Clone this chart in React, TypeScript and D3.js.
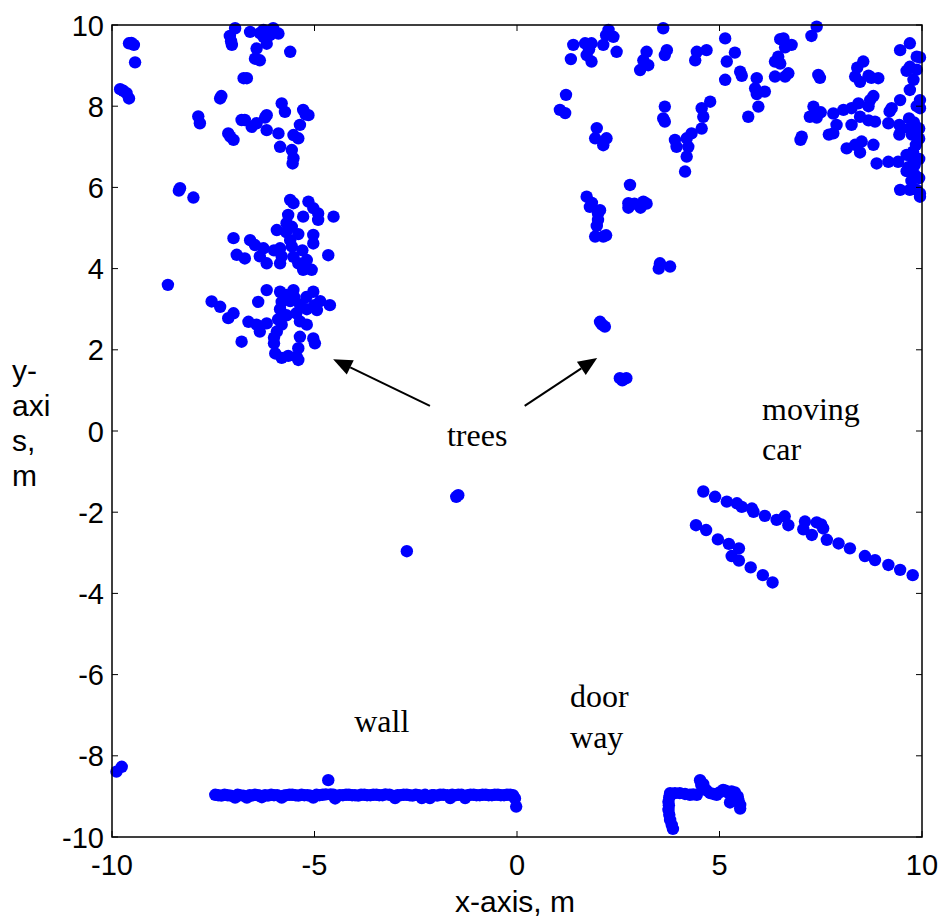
import React from "react";
import * as d3 from "d3";

// Laser scan returns (metres), grouped by what they hit
const leftTreesTop: [number, number][] = [
  [-9.58, 9.55], [-9.46, 9.51], [-9.52, 9.56], [-9.43, 9.08], [-9.8, 8.42], [-9.72, 8.38], [-9.64, 8.32], [-9.58, 8.19],
  [-6.96, 9.92], [-7.09, 9.73], [-7.04, 9.51], [-7.06, 9.6], [-6.59, 9.83], [-6.26, 9.88], [-6.02, 9.92], [-5.89, 9.79],
  [-6.18, 9.54], [-6.43, 9.42], [-6.47, 9.17], [-6.35, 9.13], [-5.6, 9.34], [-6.26, 9.71], [-6.35, 9.8], [-6.1, 9.75],
  [-6.75, 8.69], [-6.67, 8.69], [-7.33, 8.19], [-7.3, 8.25],
  [-7.87, 7.75], [-7.83, 7.58], [-6.8, 7.66], [-6.72, 7.66], [-6.55, 7.49], [-6.43, 7.58], [-6.18, 7.78], [-6.22, 7.72],
  [-6.18, 7.41], [-5.81, 8.07], [-5.73, 7.86], [-5.28, 7.91], [-5.15, 7.78], [-5.22, 7.8], [-5.36, 7.54], [-5.52, 7.29],
  [-5.4, 7.21], [-5.89, 7.33], [-7.13, 7.33], [-7.0, 7.17], [-7.08, 7.25], [-5.85, 7.0], [-5.56, 6.92], [-5.52, 6.72],
  [-5.54, 6.59], [-8.32, 5.98], [-8.35, 5.92], [-7.99, 5.75],
];

const leftTreesMid: [number, number][] = [
  [-5.6, 5.69], [-5.52, 5.61], [-5.15, 5.65], [-5.03, 5.49], [-4.91, 5.36], [-4.91, 5.2], [-4.53, 5.28], [-5.28, 5.28],
  [-5.65, 5.32], [-5.69, 5.12], [-5.93, 4.95], [-5.56, 5.03], [-5.4, 4.85], [-5.03, 4.83], [-5.03, 4.62], [-5.6, 4.7],
  [-5.56, 4.55], [-7.0, 4.75], [-6.59, 4.7], [-6.47, 4.58], [-6.26, 4.5], [-6.0, 4.45], [-5.85, 4.5], [-6.92, 4.34],
  [-6.72, 4.25], [-6.18, 4.13], [-5.85, 4.13], [-5.52, 4.29], [-5.4, 4.13], [-5.19, 4.21], [-5.07, 3.97], [-5.28, 3.97],
  [-4.66, 4.33], [-6.35, 4.3], [-5.81, 4.3], [-5.3, 4.45], [-5.7, 4.9], [-8.62, 3.6],
];

const leftTreesLow: [number, number][] = [
  [-7.54, 3.19], [-7.33, 3.06], [-7.0, 2.9], [-7.13, 2.78], [-6.8, 2.2], [-6.63, 2.69], [-6.43, 2.62], [-6.18, 2.65],
  [-6.35, 2.45], [-6.39, 3.18], [-6.18, 3.47], [-5.85, 3.43], [-5.52, 3.47], [-5.81, 3.18], [-5.6, 3.2], [-5.36, 3.12],
  [-5.03, 3.43], [-4.86, 3.2], [-4.62, 3.1], [-4.94, 2.98], [-5.19, 3.0], [-5.85, 3.0], [-5.69, 2.85], [-5.36, 2.7],
  [-5.19, 2.62], [-5.81, 2.62], [-5.93, 2.45], [-5.36, 2.32], [-5.03, 2.28], [-4.99, 2.16], [-6.0, 2.16], [-5.97, 1.91],
  [-5.81, 1.8], [-5.65, 1.85], [-5.4, 2.04], [-5.4, 1.75], [-5.44, 1.83], [-5.5, 3.3], [-5.7, 3.35], [-5.2, 3.3],
  [-5.0, 3.1], [-5.45, 2.9], [-5.9, 2.75], [-6.0, 2.3],
];

const rightTreesTop: [number, number][] = [
  [1.39, 9.51], [1.33, 9.16], [1.68, 9.55], [1.84, 9.55], [1.72, 9.26], [1.84, 9.1], [2.13, 9.51], [2.26, 9.88],
  [2.38, 9.71], [2.46, 9.34], [3.61, 9.92], [3.2, 9.34], [3.12, 9.13], [3.04, 8.89], [3.24, 9.01], [3.7, 9.38],
  [3.65, 9.26], [4.44, 9.34], [4.68, 9.38], [4.4, 9.13], [2.2, 9.75], [1.78, 9.4],
  [1.21, 8.28], [1.06, 7.91], [1.19, 7.83], [1.97, 7.46], [1.93, 7.21], [2.21, 7.21], [2.13, 7.04],
  [3.65, 7.99], [3.61, 7.7], [3.65, 7.62],
  [4.77, 8.11], [4.56, 7.95], [4.6, 7.74], [4.56, 7.45], [4.31, 7.33], [4.19, 7.21], [3.9, 7.17], [3.94, 7.0],
  [4.23, 7.0], [4.19, 6.76], [4.15, 6.39],
  [5.14, 9.67], [5.38, 9.32], [5.18, 9.1], [5.14, 8.65], [5.51, 8.85], [5.55, 8.75], [5.92, 8.69], [5.88, 8.44],
  [6.12, 8.36], [5.92, 8.3], [5.96, 7.99], [5.71, 7.74],
  [6.58, 9.67], [6.5, 9.65], [6.78, 9.51], [6.62, 9.45], [6.45, 9.22], [6.37, 9.1], [6.5, 9.05], [6.37, 8.73],
  [6.62, 8.73], [6.7, 8.81], [7.4, 9.96], [7.27, 9.73], [7.44, 8.77], [7.48, 8.7],
  [8.55, 9.1], [8.4, 8.95], [8.35, 8.73], [8.47, 8.6], [8.68, 8.75], [8.92, 8.69], [8.75, 8.7],
  [9.46, 9.38], [9.7, 9.55], [9.87, 9.22], [9.95, 9.2], [9.7, 8.97], [9.87, 8.9], [9.62, 8.87], [9.79, 8.65],
  [9.7, 8.4], [9.46, 8.15], [9.95, 8.15], [9.87, 8.0], [9.95, 7.95],
  [7.32, 7.99], [7.23, 7.74], [7.5, 7.85], [7.4, 7.72], [7.81, 7.82], [8.06, 7.91], [8.26, 7.95], [8.43, 8.07],
  [8.72, 8.15], [8.8, 8.25], [8.68, 8.0], [8.47, 7.74], [8.68, 7.65], [8.26, 7.54], [7.89, 7.54], [7.81, 7.33],
  [7.7, 7.3], [7.03, 7.25], [7.0, 7.17],
  [9.25, 7.95], [9.2, 7.87], [9.17, 7.58], [9.44, 7.54], [9.44, 7.3], [9.5, 7.45], [9.68, 7.7], [9.8, 7.6],
  [9.7, 7.45], [9.93, 7.45], [9.93, 7.2], [9.75, 7.3], [8.84, 7.62],
  [8.14, 6.96], [8.35, 7.05], [8.51, 7.13], [8.47, 6.86], [8.8, 7.05], [8.88, 6.59], [9.17, 6.63], [9.41, 6.63],
  [9.62, 6.8], [9.78, 6.88], [9.93, 6.7], [9.82, 6.55], [9.62, 6.4], [9.82, 6.31], [9.93, 6.23], [9.74, 6.16],
  [9.46, 5.94], [9.7, 5.94], [9.95, 5.77], [9.95, 5.85], [9.87, 5.94], [9.78, 6.7], [9.66, 6.5], [9.85, 7.05],
];

const rightTreesLow: [number, number][] = [
  [1.72, 5.77], [1.8, 5.52], [2.05, 5.44], [2.0, 5.2], [1.97, 5.05], [1.93, 4.79], [2.13, 4.79], [2.2, 4.82],
  [2.0, 5.35], [1.85, 5.62],
  [2.79, 6.06], [2.75, 5.61], [2.75, 5.5], [3.12, 5.65], [3.2, 5.6], [3.05, 5.5], [2.9, 5.6],
  [3.53, 4.13], [3.5, 4.0], [3.78, 4.05],
  [2.05, 2.69], [2.17, 2.57], [2.1, 2.62],
  [2.54, 1.3], [2.7, 1.3], [2.6, 1.25],
];

const carFront: [number, number][] = [
  [4.6, -1.49], [4.89, -1.62], [5.18, -1.74], [5.43, -1.78], [5.55, -1.87], [5.8, -1.91], [5.84, -1.99], [6.12, -2.09],
  [6.41, -2.19], [6.61, -2.1], [6.7, -2.32], [7.11, -2.23], [7.07, -2.42], [7.28, -2.56], [7.4, -2.25], [7.51, -2.3],
  [7.56, -2.4], [7.65, -2.68], [7.94, -2.77], [8.22, -2.89], [8.59, -3.08], [8.84, -3.18], [9.17, -3.3], [9.46, -3.42],
  [9.77, -3.55],
];

const carSide: [number, number][] = [
  [4.42, -2.32], [4.67, -2.44], [4.96, -2.67], [5.23, -2.78], [5.48, -2.89], [5.3, -3.08], [5.48, -3.19], [5.77, -3.36],
  [6.07, -3.55], [6.31, -3.73],
];

const wallPoints: [number, number][] = [
  [-7.45, -8.96], [-7.3, -8.98], [-7.15, -8.97], [-6.96, -9.03], [-6.85, -8.97], [-6.67, -9.03], [-6.55, -8.98],
  [-6.4, -8.97], [-6.3, -9.02], [-6.15, -8.98], [-6.0, -8.97], [-5.81, -9.03], [-5.7, -8.97], [-5.55, -8.96],
  [-5.4, -8.98], [-5.25, -8.97], [-5.03, -9.03], [-4.95, -8.96], [-4.8, -8.96], [-4.66, -8.6], [-4.6, -8.95],
  [-4.49, -9.05], [-4.3, -8.97], [-4.15, -8.96], [-4.0, -8.97], [-3.85, -8.96], [-3.7, -8.97], [-3.55, -8.96],
  [-3.4, -8.97], [-3.25, -8.95], [-3.01, -9.04], [-2.95, -8.97], [-2.8, -8.96], [-2.65, -8.97], [-2.5, -8.96],
  [-2.35, -9.04], [-2.15, -9.04], [-2.05, -8.97], [-1.9, -8.96], [-1.65, -9.04], [-1.6, -8.96], [-1.45, -8.96],
  [-1.28, -9.04], [-1.15, -8.96], [-1.0, -8.97], [-0.85, -8.96], [-0.7, -8.97], [-0.55, -8.96], [-0.4, -8.97],
  [-0.25, -8.96], [-0.1, -8.97], [-0.02, -9.25],
  [-7.38, -8.97], [-7.22, -8.96], [-7.07, -8.98], [-6.9, -8.96], [-6.76, -8.98], [-6.6, -8.97], [-6.47, -8.96],
  [-6.35, -8.98], [-6.22, -8.97], [-6.07, -8.96], [-5.92, -8.97], [-5.76, -8.98], [-5.62, -8.96], [-5.47, -8.97],
  [-5.32, -8.96], [-5.17, -8.97], [-5.1, -8.98], [-4.88, -8.97], [-4.72, -8.95], [-4.53, -8.96], [-4.38, -8.97],
  [-4.22, -8.96], [-4.07, -8.97], [-3.92, -8.98], [-3.77, -8.96], [-3.62, -8.97], [-3.47, -8.96], [-3.32, -8.97],
  [-3.15, -8.96], [-3.08, -8.98], [-2.88, -8.97], [-2.72, -8.96], [-2.58, -8.98], [-2.42, -8.97], [-2.27, -8.96],
  [-2.1, -8.97], [-1.97, -8.98], [-1.82, -8.96], [-1.72, -8.97], [-1.52, -8.97], [-1.37, -8.96], [-1.22, -8.97],
  [-1.07, -8.96], [-0.92, -8.97], [-0.77, -8.96], [-0.62, -8.97], [-0.47, -8.96], [-0.32, -8.97], [-0.17, -8.96],
  [-0.05, -9.05],
];

const doorPoints: [number, number][] = [
  [3.82, -9.7], [3.85, -9.8], [3.78, -9.58], [3.74, -9.33], [3.74, -9.13], [3.78, -8.92], [4.02, -8.92], [4.27, -8.96],
  [4.44, -8.96], [4.52, -8.6], [4.6, -8.7], [4.77, -8.92], [4.93, -8.96], [5.09, -8.84], [5.2, -8.9], [5.38, -8.9],
  [5.26, -9.15], [5.51, -9.21], [5.51, -9.3],
  [3.76, -9.45], [3.75, -9.22], [3.76, -9.02], [3.9, -8.92], [4.15, -8.94], [4.35, -8.95], [4.55, -8.72],
  [4.68, -8.85], [4.85, -8.94], [5.0, -8.9], [5.15, -8.86], [5.3, -8.88], [5.45, -9.0], [5.47, -9.1], [5.32, -9.05],
];

const strayPoints: [number, number][] = [
  [-1.45, -1.58], [-1.5, -1.62], [-2.72, -2.96], [-9.89, -8.39], [-9.76, -8.27],
];

const xTicks = [-10, -5, 0, 5, 10];
const yTicks = [-10, -8, -6, -4, -2, 0, 2, 4, 6, 8, 10];

// Annotations in data coordinates: label lines with their left x and baseline y
const notes: { lines: string[]; x: number; y: number[] }[] = [
  { lines: ["trees"], x: -1.73, y: [-0.37] },
  { lines: ["wall"], x: -4.02, y: [-7.41] },
  { lines: ["door", "way"], x: 1.31, y: [-6.8, -7.81] },
  { lines: ["moving", "car"], x: 6.05, y: [0.27, -0.71] },
];

// Arrows pointing from the "trees" label to each tree group
const arrows: { from: [number, number]; to: [number, number] }[] = [
  { from: [-2.15, 0.62], to: [-4.54, 1.77] },
  { from: [0.19, 0.62], to: [1.98, 1.8] },
];

const W = 946;
const H = 918;
const left = 112, right = 922, top = 25, bottom = 837;

export default function App() {
  const x = d3.scaleLinear().domain([-10, 10]).range([left, right]);
  const y = d3.scaleLinear().domain([-10, 10]).range([bottom, top]);
  const all = [
    ...leftTreesTop, ...leftTreesMid, ...leftTreesLow, ...rightTreesTop, ...rightTreesLow,
    ...carFront, ...carSide, ...wallPoints, ...doorPoints, ...strayPoints,
  ];
  const tickLen = 6;
  const sans = "'Liberation Sans', Arial, sans-serif";
  const serif = "'Liberation Serif', 'Times New Roman', serif";

  const arrowHead = (from: [number, number], to: [number, number]) => {
    const x1 = x(from[0]), y1 = y(from[1]), x2 = x(to[0]), y2 = y(to[1]);
    const a = Math.atan2(y2 - y1, x2 - x1);
    const len = 19, hw = 8;
    const bx = x2 - len * Math.cos(a), by = y2 - len * Math.sin(a);
    const px = -Math.sin(a) * hw, py = Math.cos(a) * hw;
    return {
      line: [x1, y1, bx, by],
      head: `M${x2},${y2}L${bx + px},${by + py}L${bx - px},${by - py}Z`,
    };
  };

  return (
    <svg width={W} height={H} style={{ position: "absolute", left: 0, top: 0, background: "#fff" }}>
      <rect x={0} y={0} width={W} height={H} fill="#fff" />
      {all.map((p, i) => (
        <circle key={i} cx={x(p[0])} cy={y(p[1])} r={6.2} fill="#0000ff" />
      ))}
      <rect x={left} y={top} width={right - left} height={bottom - top} fill="none" stroke="#000" strokeWidth={1.5} />
      {xTicks.map((t) => (
        <g key={"x" + t}>
          <line x1={x(t)} x2={x(t)} y1={bottom} y2={bottom - tickLen} stroke="#000" />
          <line x1={x(t)} x2={x(t)} y1={top} y2={top + tickLen} stroke="#000" />
          <text x={x(t)} y={875} textAnchor="middle" fontFamily={sans} fontSize={29}>{String(t)}</text>
        </g>
      ))}
      {yTicks.map((t) => (
        <g key={"y" + t}>
          <line x1={left} x2={left + tickLen} y1={y(t)} y2={y(t)} stroke="#000" />
          <line x1={right} x2={right - tickLen} y1={y(t)} y2={y(t)} stroke="#000" />
          <text x={104} y={y(t) + 10.5} textAnchor="end" fontFamily={sans} fontSize={29}>{String(t)}</text>
        </g>
      ))}
      <text x={515} y={912} textAnchor="middle" fontFamily={sans} fontSize={30}>x-axis, m</text>
      {["y-", "axi", "s,", "m"].map((s, i) => (
        <text key={s} x={12} y={381 + i * 35} fontFamily={sans} fontSize={30}>{s}</text>
      ))}
      {notes.map((n) =>
        n.lines.map((s, i) => (
          <text key={s} x={x(n.x)} y={y(n.y[i])} fontFamily={serif} fontSize={32}>{s}</text>
        ))
      )}
      {arrows.map((a, i) => {
        const h = arrowHead(a.from, a.to);
        return (
          <g key={i}>
            <line x1={h.line[0]} y1={h.line[1]} x2={h.line[2]} y2={h.line[3]} stroke="#000" strokeWidth={2} />
            <path d={h.head} fill="#000" />
          </g>
        );
      })}
    </svg>
  );
}
